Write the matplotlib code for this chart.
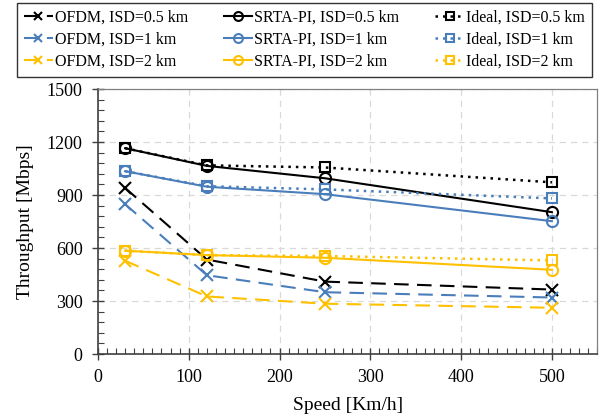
import numpy as np
import matplotlib.pyplot as plt
from matplotlib.ticker import MultipleLocator

plt.rcParams['font.family'] = ['Liberation Serif', 'DejaVu Serif']

speed = [30, 120, 250, 500]

ofdm_05 = [940, 535, 410, 365]
ofdm_1 = [848, 446, 350, 320]
ofdm_2 = [528, 326, 285, 262]

srta_05 = [1165, 1065, 995, 803]
srta_1 = [1035, 947, 905, 752]
srta_2 = [585, 560, 545, 477]

ideal_05 = [1165, 1068, 1056, 972]
ideal_1 = [1035, 950, 932, 881]
ideal_2 = [585, 560, 555, 530]

black = '#000000'
blue = '#4a7ebb'
yellow = '#ffc000'

fig = plt.figure(figsize=(6.12, 4.18), dpi=100)
ax = fig.add_axes([0.160, 0.153, 0.816, 0.634])

ms = 8
# OFDM
for y, c, lab in [(ofdm_05, black, 'OFDM, ISD=0.5 km'),
                  (ofdm_1, blue, 'OFDM, ISD=1 km'),
                  (ofdm_2, yellow, 'OFDM, ISD=2 km')]:
    ax.plot(speed, y, color=c, ls=(0, (7, 4)), lw=1.5, marker='x', ms=ms,
            mew=1.5, label=lab)
# SRTA-PI
for y, c, lab in [(srta_05, black, 'SRTA-PI, ISD=0.5 km'),
                  (srta_1, blue, 'SRTA-PI, ISD=1 km'),
                  (srta_2, yellow, 'SRTA-PI, ISD=2 km')]:
    ax.plot(speed, y, color=c, ls='-', lw=1.5, marker='o', ms=ms,
            mfc='none', mew=1.5, label=lab)
# Ideal
for y, c, lab in [(ideal_05, black, 'Ideal, ISD=0.5 km'),
                  (ideal_1, blue, 'Ideal, ISD=1 km'),
                  (ideal_2, yellow, 'Ideal, ISD=2 km')]:
    ax.plot(speed, y, color=c, ls=(0, (1, 2)), lw=1.8, marker='s', ms=7,
            mfc='none', mew=1.5, label=lab)

ax.set_xlim(0, 550)
ax.set_ylim(0, 1500)
ax.xaxis.set_major_locator(MultipleLocator(100))
ax.xaxis.set_minor_locator(MultipleLocator(10))
ax.yaxis.set_major_locator(MultipleLocator(300))
ax.yaxis.set_minor_locator(MultipleLocator(60))
ax.tick_params(which='major', direction='inout', length=8, width=1,
               labelsize=13, color='#404040')
ax.tick_params(axis='y', which='major', pad=7)
ax.tick_params(axis='x', which='major', pad=7)
ax.tick_params(which='minor', direction='in', length=4, width=0.8,
               color='#404040')
ax.tick_params(top=False, right=False)
ax.grid(True, which='major', ls=(0, (5, 4)), color='#d9d9d9', lw=0.9)
ax.set_axisbelow(True)
for s in ['top', 'right']:
    ax.spines[s].set_color('#808080')
    ax.spines[s].set_linewidth(0.9)
for s in ['left', 'bottom']:
    ax.spines[s].set_color('#404040')
    ax.spines[s].set_linewidth(1.2)

ax.set_xlabel('Speed [Km/h]', fontsize=14, labelpad=8)
ax.set_ylabel('Throughput [Mbps]', fontsize=14, labelpad=9)

leg = fig.legend(loc='upper left', bbox_to_anchor=(0.0273, 0.9935), ncol=3,
                 fontsize=11.5, frameon=True, fancybox=False, edgecolor='black',
                 handlelength=1.8, handletextpad=0.12, columnspacing=2.25,
                 labelspacing=0.38, borderpad=0.45, borderaxespad=0,
                 markerscale=0.8)
leg.get_frame().set_linewidth(1.0)

fig.savefig('out.png', dpi=100)
